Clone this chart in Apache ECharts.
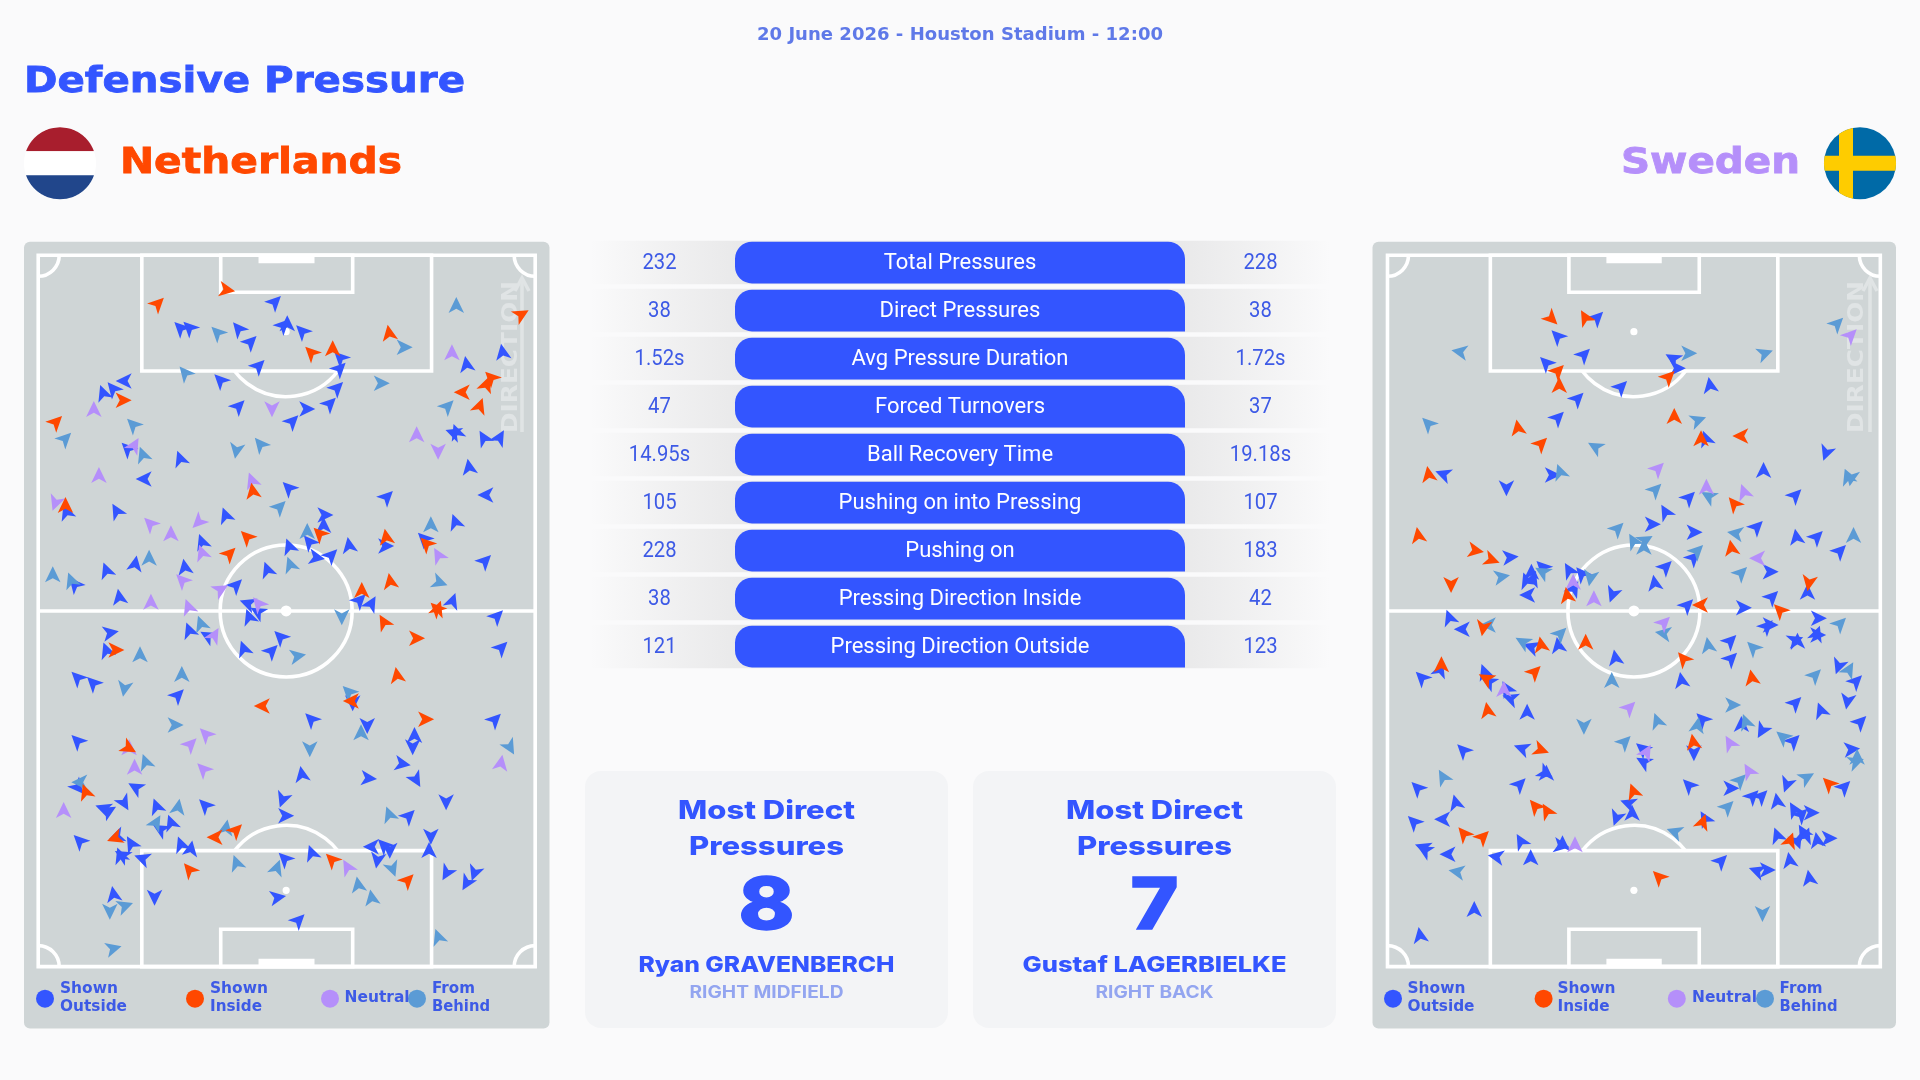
<!DOCTYPE html>
<html><head><meta charset="utf-8">
<style>html,body{margin:0;padding:0;background:#FAFAFB}#c{width:1920px;height:1080px}</style>
<script src="https://cdn.jsdelivr.net/npm/echarts@6/dist/echarts.min.js"></script>
</head><body><div id="c"></div>
<script>
// Each event: [across pitch, along pitch, heading in degrees clockwise from "up"]
const nedInside = [[435,250,45],[625,210,100],[1070,338,350],[1435,283,60],[915,385,0],[855,397,315],[1350,472,315],[1338,492,20],[1270,517,270],[1320,557,20],[340,541,90],[155,605,45],[695,812,350],[180,855,0],[678,950,315],[632,1000,45],[878,940,315],[1062,950,350],[1172,970,315],[995,1110,0],[1073,1083,350],[1200,1165,315],[1205,1165,20],[1055,1205,330],[1147,1255,90],[320,1290,90],[1092,1365,350],[720,1458,270],[965,1443,270],[1172,1498,90],[355,1585,120],[235,1715,340],[315,1855,250],[650,1830,45],[590,1852,270],[912,1918,315],[520,1948,320],[1122,1980,45]];
const nedOutside = [[757,245,45],[495,323,315],[520,322,315],[655,325,320],[690,365,45],[790,310,0],[780,315,45],[830,333,315],[935,412,315],[935,445,45],[712,437,45],[605,480,315],[928,503,45],[908,550,45],[657,558,45],[845,567,90],[805,603,45],[340,483,270],[310,505,320],[283,518,340],[1382,395,350],[1283,432,350],[1246,638,290],[1255,635,340],[1330,653,330],[1375,652,30],[1290,740,350],[1335,825,270],[1065,830,45],[793,803,315],[495,715,340],[350,685,315],[395,777,270],[182,875,340],[320,872,330],[620,885,340],[895,885,90],[890,915,0],[850,965,320],[795,978,340],[872,1013,100],[912,1005,45],[960,975,350],[1062,978,90],[1165,955,315],[1252,905,340],[1335,1022,45],[555,965,340],[372,1030,10],[292,1050,340],[508,1040,350],[735,1048,340],[205,1092,320],[650,1095,45],[328,1130,350],[680,1150,290],[708,1175,300],[685,1190,340],[990,1140,45],[1022,1150,30],[1245,1142,20],[1368,1188,45],[305,1238,80],[520,1230,340],[570,1247,300],[770,1250,315],[670,1285,340],[748,1292,45],[292,1290,340],[1380,1282,45],[212,1372,315],[255,1388,315],[490,1425,45],[855,1497,315],[970,1450,180],[1010,1518,180],[1140,1545,0],[1135,1582,180],[1362,1498,45],[212,1562,315],[1108,1632,100],[830,1662,350],[1015,1675,95],[1145,1680,150],[372,1702,300],[215,1703,140],[777,1740,200],[430,1758,340],[563,1755,315],[1227,1747,180],[342,1750,150],[283,1765,290],[300,1772,60],[787,1787,90],[1125,1787,45],[470,1807,340],[440,1827,300],[218,1862,315],[320,1850,250],[360,1870,330],[497,1872,340],[525,1885,10],[1185,1850,180],[1180,1890,0],[1020,1880,270],[1055,1875,315],[1072,1892,180],[335,1905,300],[330,1905,340],[390,1915,290],[782,1915,315],[857,1898,340],[1038,1922,190],[1228,1960,210],[1305,1960,200],[1283,1990,210],[312,2022,350],[425,2033,180],[765,2032,80],[822,2100,45]];
const nedNeutral = [[1243,397,0],[258,567,0],[748,568,180],[370,675,30],[1146,643,0],[1205,695,180],[272,765,0],[692,780,340],[152,850,200],[412,910,315],[470,940,0],[545,907,225],[555,997,340],[1205,1005,330],[500,1080,315],[608,1108,60],[415,1145,0],[518,1160,340],[710,1150,320],[590,1245,30],[565,1542,315],[525,1572,45],[355,1582,0],[370,1640,0],[558,1647,315],[175,1770,0],[1378,1628,10],[955,1940,330]];
const nedBehind = [[1255,255,0],[597,337,315],[1113,382,90],[508,458,320],[1050,490,90],[1232,558,45],[365,613,315],[180,655,45],[392,703,340],[650,693,190],[715,672,320],[770,860,45],[1185,913,0],[845,933,0],[410,1013,0],[145,1063,0],[195,1080,340],[798,1033,340],[1210,1088,110],[940,1192,180],[552,1210,340],[385,1303,0],[820,1308,80],[500,1362,0],[342,1407,190],[958,1415,315],[483,1515,90],[852,1588,180],[993,1537,0],[400,1625,340],[1403,1583,150],[218,1687,270],[490,1760,10],[430,1807,30],[622,1822,10],[1070,1782,340],[650,1928,340],[762,1942,20],[985,1993,350],[1080,1948,160],[1022,2032,350],[345,2057,70],[302,2075,180],[313,2185,75],[1205,2150,340]];
const sweInside = [[537,297,135],[630,292,330],[555,452,45],[558,495,0],[865,470,45],[880,588,0],[442,622,350],[508,670,45],[955,655,0],[1065,648,270],[192,762,350],[1047,850,320],[163,945,350],[325,992,100],[370,1020,110],[255,1095,180],[1040,983,350],[580,1125,350],[1257,1090,190],[952,1155,270],[1175,1170,315],[345,1225,190],[507,1273,350],[632,1265,0],[905,1315,320],[490,1355,45],[228,1333,0],[352,1375,300],[357,1470,350],[1097,1372,350],[508,1590,110],[933,1565,350],[1312,1690,315],[765,1713,340],[490,1758,320],[523,1772,330],[960,1805,20],[290,1840,320],[345,1850,45],[836,1970,315],[1205,1860,20]];
const sweOutside = [[665,292,45],[552,348,315],[628,403,45],[520,428,315],[875,415,300],[890,445,90],[732,500,45],[980,495,350],[610,535,45],[555,592,45],[968,655,340],[1305,700,200],[1130,750,0],[232,762,290],[540,765,90],[410,805,180],[922,832,45],[1220,825,45],[855,875,330],[820,913,90],[937,937,90],[1112,920,45],[1222,950,350],[1280,950,45],[1345,992,45],[422,1012,85],[935,1012,45],[510,1040,315],[585,1050,330],[857,1040,45],[480,1055,0],[465,1080,340],[485,1075,20],[620,1060,320],[1150,1055,90],[600,1105,30],[825,1088,350],[468,1125,270],[707,1125,200],[917,1155,45],[1155,1130,45],[1075,1163,90],[1253,1115,0],[250,1192,340],[285,1228,270],[1285,1195,90],[1140,1218,45],[1150,1215,90],[478,1280,290],[555,1275,350],[715,1312,350],[900,1380,350],[1038,1262,45],[1040,1315,45],[1220,1260,70],[1225,1262,0],[1280,1240,20],[1283,1245,90],[1340,1340,200],[1390,1383,45],[172,1372,315],[225,1348,20],[348,1355,340],[360,1385,300],[420,1435,290],[410,1405,330],[468,1475,0],[1220,1448,45],[1290,1470,340],[1365,1445,190],[1402,1505,45],[958,1497,315],[1068,1512,0],[1125,1533,210],[1215,1562,45],[288,1590,315],[452,1585,290],[790,1585,310],[793,1625,300],[935,1600,180],[1378,1588,85],[522,1658,0],[520,1660,120],[448,1692,45],[160,1703,315],[920,1695,315],[1040,1705,90],[1100,1728,45],[1125,1728,45],[1195,1695,200],[1357,1700,45],[268,1747,345],[750,1750,290],[1168,1742,350],[1215,1768,330],[1237,1783,45],[1265,1778,90],[150,1805,315],[230,1798,270],[718,1795,200],[762,1778,0],[965,1795,330],[1168,1845,340],[450,1863,330],[567,1870,0],[565,1878,100],[1240,1835,330],[1250,1845,20],[1280,1860,350],[1315,1855,90],[175,1882,290],[180,1890,300],[245,1903,270],[1225,1865,160],[380,1910,280],[478,1912,0],[1012,1922,45],[1203,1920,350],[1110,1952,290],[1142,1950,90],[1258,1973,350],[320,2067,0],[168,2145,350]];
const sweNeutral = [[1375,345,45],[835,745,45],[970,800,0],[1075,815,340],[1112,1015,270],[597,1085,0],[655,1135,0],[852,1207,45],[403,1407,0],[755,1462,45],[1035,1568,330],[803,1595,30],[1088,1652,330],[602,1873,0]];
const sweBehind = [[1337,310,45],[278,395,280],[922,400,90],[1135,400,70],[190,610,315],[948,600,70],[658,680,300],[560,755,340],[1365,770,340],[1375,775,190],[828,808,45],[975,828,300],[722,925,45],[1050,940,280],[765,962,330],[800,960,60],[795,980,0],[945,992,45],[398,1070,80],[510,1055,300],[1068,1058,45],[645,1075,190],[1345,1210,45],[358,1215,270],[848,1240,280],[1382,945,0],[562,1240,45],[455,1265,300],[975,1275,350],[1100,1282,315],[705,1380,0],[1370,1348,30],[1275,1365,45],[1045,1455,90],[627,1520,180],[832,1502,340],[945,1515,10],[1080,1505,340],[742,1565,45],[1183,1550,310],[1392,1610,0],[1390,1625,70],[232,1670,330],[1252,1672,60],[1065,1680,45],[1030,1760,45],[880,1835,290],[270,1955,280],[1127,2082,180]];

const statLabels = ["Total Pressures","Direct Pressures","Avg Pressure Duration","Forced Turnovers","Ball Recovery Time","Pushing on into Pressing","Pushing on","Pressing Direction Inside","Pressing Direction Outside"];
const nedStats = ["232","38","1.52s","47","14.95s","105","228","38","121"];
const sweStats = ["228","38","1.72s","37","19.18s","107","183","42","123"];
const legendNames = [["Shown","Outside"],["Shown","Inside"],["Neutral"],["From","Behind"]];

const BLUE='#3355FF', ORANGE='#FF4800', PURPLE='#B58FFA', SKY='#5B9BD5', TXT='#3D5AE6';
const ARROW='path://M0,-10 L8.5,9.5 L0,4.5 L-8.5,9.5 Z';

const chart = echarts.init(document.getElementById('c'),null,{renderer:'canvas'});
const mctx = document.createElement('canvas').getContext('2d');
function T(text,x,y,o){
  o=o||{};
  const font=(o.weight||400)+' '+(o.size||16)+'px '+(o.family||'Inter');
  let sx=o.sx||1;
  if(o.w){mctx.font=font;sx=o.w/mctx.measureText(text).width;}
  const style={text:text,fill:o.color||TXT,font:font,textAlign:o.align||'center',textVerticalAlign:'middle'};
  if(o.fat){style.stroke=o.color||TXT;style.lineWidth=o.fat;}
  return {type:'text',x:x,y:y,scaleX:sx,rotation:o.rot||0,z:o.z||5,silent:true,style:style};
}
function band(cx,cy,r,a,b,vertical){ // polygon: circle clipped to a band a..b (offsets from the centre)
  const pts=[];
  const n=40;
  for(let i=0;i<=n;i++){const t=a+(b-a)*i/n;const h=Math.sqrt(Math.max(0,r*r-t*t));pts.push(vertical?[cx+t,cy-h]:[cx+h,cy+t]);}
  for(let i=n;i>=0;i--){const t=a+(b-a)*i/n;const h=Math.sqrt(Math.max(0,r*r-t*t));pts.push(vertical?[cx+t,cy+h]:[cx-h,cy+t]);}
  return pts;
}
const HEAD='DejaVu Sans';
const G=[];
// page title, header
G.push(T('20 June 2026 - Houston Stadium - 12:00',960,36,{family:HEAD,weight:700,size:17,color:'#5F79E8',w:406}));
G.push(T('Defensive Pressure',24,83,{family:HEAD,weight:700,size:36,color:BLUE,align:'left',w:441,fat:.8}));
G.push(T('Netherlands',120,163.5,{family:HEAD,weight:700,size:36,color:ORANGE,align:'left',w:282,fat:.8}));
G.push(T('Sweden',1800,163.5,{family:HEAD,weight:700,size:36,color:PURPLE,align:'right',w:179,fat:.8}));
// flags
const fr=36, fy=163.3;
[[-fr,-12,'#A81E2D'],[-12,12,'#FFFFFF'],[12,fr,'#21468B']].forEach(b=>G.push({type:'polygon',z:2,silent:true,shape:{points:band(60,fy,fr,b[0],b[1])},style:{fill:b[2]}}));
G.push({type:'circle',z:2,silent:true,shape:{cx:1860,cy:fy,r:fr},style:{fill:'#006AA7'}});
G.push({type:'polygon',z:3,silent:true,shape:{points:band(1860,fy,fr,-21,-7,true)},style:{fill:'#FECC00'}});
G.push({type:'polygon',z:3,silent:true,shape:{points:band(1860,fy,fr,-7.5,7.5)},style:{fill:'#FECC00'}});
// pitch panels
[[24,525.5],[1372.5,523.5]].forEach(p=>G.push({type:'rect',z:0,silent:true,shape:{x:p[0],y:241.7,width:p[1],height:786.8,r:6},style:{fill:'#CFD5D6'}}));
// direction markers
[[511,522],[1857.5,1870]].forEach(p=>{
  G.push(T('DIRECTION',p[0],357,{family:HEAD,weight:700,size:22,color:'#E0E4E5',w:152,rot:Math.PI/2,z:1}));
  G.push({type:'polyline',z:1,silent:true,shape:{points:[[p[1],432],[p[1],278]]},style:{stroke:'#E0E4E5',lineWidth:3.5,fill:'none'}});
  G.push({type:'polyline',z:1,silent:true,shape:{points:[[p[1]-7,291],[p[1],278],[p[1]+7,291]]},style:{stroke:'#E0E4E5',lineWidth:3.5,fill:'none'}});
});
// legends
function legend(dots,labels){
  const cols=[BLUE,ORANGE,PURPLE,SKY];
  legendNames.forEach((n,i)=>{
    G.push({type:'circle',z:3,silent:true,shape:{cx:dots[i],cy:998.7,r:9},style:{fill:cols[i]}});
    const o={family:HEAD,weight:700,size:15,align:'left'};
    if(n.length===1){G.push(T(n[0],labels[i],998,Object.assign({w:65},o)));}
    else{
      G.push(T(n[0],labels[i],989,Object.assign({w:n[0]==='Shown'?58:43},o)));
      G.push(T(n[1],labels[i],1007,Object.assign({w:n[1]==='Outside'?67:n[1]==='Inside'?52:58},o)));
    }
  });
}
legend([45,195,330,417],[60,210,344.6,432]);
legend([1393,1543.6,1676.8,1765],[1407.5,1557.5,1692,1779.6]);
// stats table
statLabels.forEach((l,i)=>{
  const y=241.7+48*i;
  G.push({type:'rect',z:1,silent:true,shape:{x:590,y:y-1,width:740,height:43.5},style:{fill:{type:'linear',x:0,y:0,x2:1,y2:0,colorStops:[{offset:0,color:'rgba(232,232,232,0)'},{offset:.2,color:'#E9E9EA'},{offset:.8,color:'#E9E9EA'},{offset:1,color:'rgba(232,232,232,0)'}]}}});
  G.push({type:'rect',z:2,silent:true,shape:{x:735,y:y,width:450,height:41.7,r:[17,17,0,17]},style:{fill:BLUE}});
  G.push(T(l,960,y+22,{family:'Roboto',size:22,color:'#FFFFFF',z:4}));
  G.push(T(nedStats[i],659.5,y+22,{family:'Roboto',size:22,color:TXT,z:4,sx:.92}));
  G.push(T(sweStats[i],1260.5,y+22,{family:'Roboto',size:22,color:TXT,z:4,sx:.92}));
});
// player cards
[[585,766.5,'8','Ryan GRAVENBERCH',256,'RIGHT MIDFIELD',154],[973,1154.5,'7','Gustaf LAGERBIELKE',264,'RIGHT BACK',118]].forEach(c=>{
  G.push({type:'rect',z:0,silent:true,shape:{x:c[0],y:771,width:363,height:257,r:16},style:{fill:'#F3F4F6'}});
  G.push(T('Most Direct',c[1],811.5,{family:'Inter',weight:800,size:26,color:BLUE,w:177}));
  G.push(T('Pressures',c[1],847.5,{family:'Inter',weight:800,size:26,color:BLUE,w:155}));
  G.push(T(c[2],c[1],907,{family:'Inter',weight:800,size:72,color:BLUE,w:c[2]==='8'?56:48,fat:1.5}));
  G.push(T(c[3],c[1],965.5,{family:'Inter',weight:800,size:22,color:BLUE,w:c[4]}));
  G.push(T(c[5],c[1],992.5,{family:'Inter',weight:700,size:17,color:'#93A5F0',w:c[6]}));
});

// pitch geometry, in the same units as the events
const geoL={l:105,r:1472,c:787,bl:390,br:1187,sl:607,sr:970,gl:711,gr:865};
const geoR={l:77,r:1457,c:767,bl:365,br:1170,sl:585,sr:950,gl:690,gr:845};
const Y={t:106,b:2240,mid:1173,box1:453,box2:1892,six1:217,six2:2128,goal:24,spot1:335,spot2:2011};
function pitchSeries(g,idx){
  return {type:'custom',name:'pitch',xAxisIndex:idx,yAxisIndex:idx,silent:true,z:1,clip:false,data:[[0,0]],
    renderItem:function(p,api){
      const L={stroke:'#FFFFFF',lineWidth:3.6,fill:'none'};
      const kids=[];
      const rect=(x1,y1,x2,y2,fill)=>{const a=api.coord([x1,y1]),b=api.coord([x2,y2]);
        kids.push({type:'rect',shape:{x:a[0],y:a[1],width:b[0]-a[0],height:b[1]-a[1]},style:fill?{fill:'#FFF'}:L});};
      const line=(x1,y1,x2,y2)=>{const a=api.coord([x1,y1]),b=api.coord([x2,y2]);
        kids.push({type:'line',shape:{x1:a[0],y1:a[1],x2:b[0],y2:b[1]},style:L});};
      const arc=(x,y,r,s,e)=>{const a=api.coord([x,y]);
        kids.push({type:'arc',shape:{cx:a[0],cy:a[1],r:r,startAngle:s,endAngle:e,clockwise:true},style:L});};
      const dot=(x,y,r)=>{const a=api.coord([x,y]);
        kids.push({type:'circle',shape:{cx:a[0],cy:a[1],r:r},style:{fill:'#FFF'}});};
      rect(g.l,Y.t,g.r,Y.b);
      line(g.l,Y.mid,g.r,Y.mid);
      rect(g.bl,Y.t,g.br,Y.box1); rect(g.bl,Y.box2,g.br,Y.b);
      rect(g.sl,Y.t,g.sr,Y.six1); rect(g.sl,Y.six2,g.sr,Y.b);
      rect(g.gl,Y.t,g.gr,Y.t+Y.goal,true); rect(g.gl,Y.b-Y.goal,g.gr,Y.b,true);
      arc(g.c,Y.mid,66,0,Math.PI*2);
      const d=Math.PI/180;
      arc(g.c,Y.spot1,65,37*d,143*d);
      arc(g.c,Y.spot2,65,217*d,323*d);
      dot(g.c,Y.mid,5.5); dot(g.c,Y.spot1,3.6); dot(g.c,Y.spot2,3.6);
      arc(g.l,Y.t,21,0,Math.PI/2); arc(g.r,Y.t,21,Math.PI/2,Math.PI);
      arc(g.l,Y.b,21,Math.PI*1.5,Math.PI*2); arc(g.r,Y.b,21,Math.PI,Math.PI*1.5);
      return {type:'group',children:kids};
    }};
}
function arrows(name,data,color,idx){
  return {type:'scatter',name:name,data:data,xAxisIndex:idx,yAxisIndex:idx,symbol:ARROW,symbolSize:[15.5,16],
    symbolRotate:v=>-v[2],itemStyle:{color:color,opacity:1},z:3,silent:true,animation:false,clip:false};
}
const ax=(min,max,inv)=>({type:'value',show:false,min:min,max:max,inverse:!!inv,scale:true});
chart.setOption({
  animation:false,backgroundColor:'#FAFAFB',
  graphic:{elements:G},
  grid:[{left:36.4,top:253.3,width:500.6,height:715},{left:1385.7,top:253.3,width:496.4,height:715}],
  xAxis:[Object.assign(ax(100,1477),{gridIndex:0}),Object.assign(ax(72,1462),{gridIndex:1})],
  yAxis:[Object.assign(ax(100,2245,true),{gridIndex:0}),Object.assign(ax(100,2245,true),{gridIndex:1})],
  series:[
    pitchSeries(geoL,0),pitchSeries(geoR,1),
    arrows('Shown Outside',nedOutside,BLUE,0),arrows('From Behind',nedBehind,SKY,0),arrows('Neutral',nedNeutral,PURPLE,0),arrows('Shown Inside',nedInside,ORANGE,0),
    arrows('Shown Outside',sweOutside,BLUE,1),arrows('From Behind',sweBehind,SKY,1),arrows('Neutral',sweNeutral,PURPLE,1),arrows('Shown Inside',sweInside,ORANGE,1)
  ]
});
</script></body></html>
